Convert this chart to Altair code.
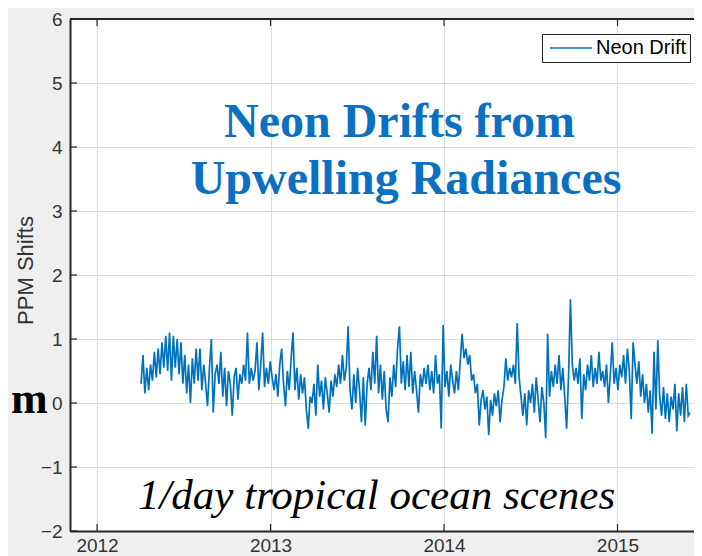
import altair as alt
import pandas as pd

# ---- data (one sample every 4 days) ----
first_year = 2012.2536          # first sample (early April 2012)
step_days = 4
drift_values = [
    0.3, 0.75, 0.15, 0.55, 0.2, 0.6, 0.35, 0.8, 0.4, 0.85,
    0.45, 0.95, 0.55, 1.05, 0.5, 1.1, 0.35, 1.05, 0.55, 1.0,
    0.45, 0.95, 0.3, 0.75, 0.15, 0.6, 0.0, 0.7, 0.3, 0.85,
    0.35, 0.85, 0.2, 0.6, 0.3, -0.05, 0.55, 1.0, -0.15, 0.45,
    0.6, 0.3, 0.8, 0.1, 0.55, -0.05, 0.5, 0.3, -0.2, 0.4,
    0.55, 0.05, 0.45, 0.3, 0.6, 0.35, 1.1, 0.3, 0.55, 0.35,
    0.5, 0.95, 0.2, 0.6, 1.1, 0.25, 0.55, 0.3, 0.65, 0.4,
    0.2, 0.45, 0.1, 0.6, 0.85, 0.3, -0.05, 0.5, 0.2, 0.7,
    1.1, 0.2, 0.55, 0.05, 0.45, 0.15, 0.4, -0.1, -0.4, 0.1,
    0.0, 0.3, -0.2, 0.6, 0.1, 0.35, -0.1, 0.4, 0.15, -0.15,
    0.35, 0.1, 0.45, 0.25, 0.6, 0.3, 0.75, 0.35, 0.55, 1.2,
    0.2, -0.1, 0.45, 0.0, 0.55, 0.2, -0.3, 0.4, -0.35, 0.3,
    0.55, 0.2, 0.8, 0.3, 1.05, 0.15, 0.6, 0.05, 0.5, -0.1,
    -0.3, 0.4, 0.1, 0.6, 0.25, 0.85, 1.2, 0.3, 0.65, 0.2,
    0.75, 0.25, 0.8, 0.15, 0.5, 0.2, -0.15, 0.45, 0.25, 0.55,
    0.3, 0.6, 0.2, 0.5, 0.15, 0.75, 0.3, 0.45, -0.4, 1.22,
    0.25, 0.5, 0.1, 0.6, 0.35, 0.15, 0.5, 0.2, 0.65, 1.08,
    0.7, 0.85, 0.6, 0.75, 0.35, 0.45, 0.15, 0.3, -0.35, 0.05,
    0.2, -0.1, 0.1, -0.5, 0.05, -0.2, 0.15, -0.05, 0.2, -0.3,
    0.05, 0.25, 0.7, 0.35, 0.55, 0.4, 0.6, 0.3, 1.25, 0.4,
    0.1, -0.2, 0.15, -0.35, 0.2, 0.0, 0.3, -0.15, 0.4, 0.05,
    -0.3, 0.25, 0.0, -0.55, 1.08, 0.1, 0.5, 0.25, 0.6, 0.3,
    0.75, 0.2, 0.55, 0.1, -0.4, 0.4, 1.62, 0.6, 0.35, 0.55,
    0.3, 0.7, -0.25, 0.45, 0.2, 0.6, 0.35, 0.75, 0.25, 0.55,
    0.3, 0.8, 0.35, 0.5, 0.25, 0.6, 0.0, 0.45, 0.95, 0.3,
    0.55, 0.2, 0.6, 0.4, 0.75, 0.3, 0.85, 0.5, -0.25, 0.95,
    0.6, 0.3, 0.65, 0.1, 0.45, 0.0, 0.3, -0.15, 0.2, -0.48,
    0.8, -0.1, 0.98, 0.1, -0.2, 0.25, -0.25, 0.15, -0.3, 0.1,
    -0.1, 0.3, -0.44, 0.15, -0.2, 0.25, -0.3, 0.3, -0.2, -0.15,
]
series_name = "Neon Drift"
year_ticks = [2012, 2013, 2014, 2015]
y_ticks = [-2, -1, 0, 1, 2, 3, 4, 5, 6]
x_domain = [2011.844, 2015.441]
y_domain = [-2, 6]

title_lines = ["Neon Drifts from", "Upwelling Radiances"]
title_x = [2013.7435, 2013.781]
title_y = [4.15, 3.26]
note_text = ["1/day tropical ocean scenes"]
note_x = [2013.611]
note_y = [-1.65]
edge_text = ["m"]
edge_x = [2011.7152]
edge_y = [-0.156]

years = [first_year + i * step_days / 365.25 for i in range(len(drift_values))]
df = pd.DataFrame({"year": years, "shift": drift_values, "series": series_name})

W, H = 624, 512
AX = "#262626"
GRID = "#dcdcdc"
SANS = "Liberation Sans"
SERIF = "Liberation Serif"

xs = alt.Scale(domain=x_domain, nice=False, zero=False)
ys = alt.Scale(domain=y_domain, nice=False, zero=False)

line = alt.Chart(df).mark_line(strokeWidth=1.7, clip=True).encode(
    x=alt.X("year:Q", scale=xs, axis=alt.Axis(
        values=year_ticks, format="d", title=None, grid=True, gridColor=GRID,
        ticks=False, labelPadding=5, labelFontSize=19, labelFont=SANS,
        labelColor="#333333", domainColor=AX, domainWidth=2)),
    y=alt.Y("shift:Q", scale=ys, axis=alt.Axis(
        values=y_ticks, format="d", title="PPM Shifts", grid=True, gridColor=GRID,
        ticks=False, labelPadding=8, labelFontSize=19, labelFont=SANS,
        labelColor="#333333", domainColor=AX, domainWidth=2,
        titleFont=SANS, titleFontSize=22, titleFontWeight="normal",
        titleColor="#333333", titleX=-45, titleY=251, titleAngle=270,
        titleBaseline="middle", titleAlign="center")),
    color=alt.Color("series:N", scale=alt.Scale(range=["#0072bd"]), legend=alt.Legend(
        orient="none", legendX=472, legendY=15, title=None,
        symbolType="stroke", symbolSize=1764, symbolStrokeWidth=1.6,
        labelFontSize=20, labelFont=SANS, labelColor="black", labelOffset=3,
        strokeColor="#222222", fillColor="white", padding=3, symbolOffset=4,
        clipHeight=22)),
)

ytick_df = pd.DataFrame({"v": y_ticks})
xtick_df = pd.DataFrame({"v": year_ticks})

yticks = alt.Chart(ytick_df).mark_rule(color=AX, strokeWidth=1.2).encode(
    y=alt.Y("v:Q", scale=ys), x=alt.value(0), x2=alt.value(7))
xticks_bottom = alt.Chart(xtick_df).mark_rule(color=AX, strokeWidth=1.2).encode(
    x=alt.X("v:Q", scale=xs), y=alt.value(H), y2=alt.value(H - 7))
xticks_top = alt.Chart(xtick_df).mark_rule(color=AX, strokeWidth=1.2).encode(
    x=alt.X("v:Q", scale=xs), y=alt.value(0), y2=alt.value(7))
top_border = alt.Chart(xtick_df).mark_rule(color=AX, strokeWidth=2).encode(
    y=alt.value(0), x=alt.value(0), x2=alt.value(W))

title_df = pd.DataFrame({"t": title_lines, "x": title_x, "y": title_y})
title_txt = alt.Chart(title_df).mark_text(
    font=SERIF, fontSize=48, fontWeight="bold", color="#0b6fc2",
    align="center", baseline="alphabetic").encode(
    x=alt.X("x:Q", scale=xs), y=alt.Y("y:Q", scale=ys), text="t:N")

note_df = pd.DataFrame({"t": note_text, "x": note_x, "y": note_y})
note_txt = alt.Chart(note_df).mark_text(
    font=SERIF, fontSize=43, fontStyle="italic", color="black",
    align="center", baseline="alphabetic").encode(
    x=alt.X("x:Q", scale=xs), y=alt.Y("y:Q", scale=ys), text="t:N")

edge_df = pd.DataFrame({"t": edge_text, "x": edge_x, "y": edge_y})
edge_txt = alt.Chart(edge_df).mark_text(
    font=SERIF, fontSize=44, fontWeight="bold", color="black",
    align="right", baseline="alphabetic").encode(
    x=alt.X("x:Q", scale=xs), y=alt.Y("y:Q", scale=ys), text="t:N")

chart = alt.layer(
    line, yticks, xticks_bottom, xticks_top, top_border, title_txt, note_txt, edge_txt
).properties(
    width=W, height=H,
    autosize=alt.AutoSizeParams(type="none"),
    padding={"left": 62, "top": 11, "right": 0, "bottom": 25},
    background="#efefef",
).configure_view(fill="white", stroke=None)

chart.save("out.html", embed_options={"renderer": "svg", "actions": False})
